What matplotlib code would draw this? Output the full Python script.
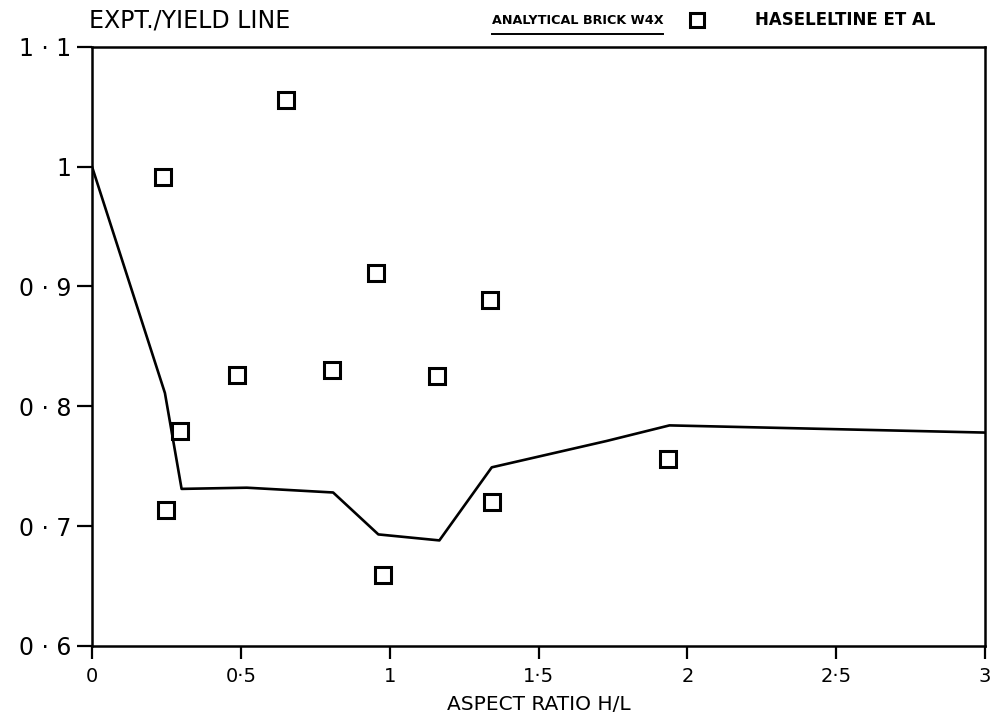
import matplotlib.pyplot as plt
from matplotlib.lines import Line2D

# analytical brick W4X curve
line_x = [0.0, 0.245, 0.301, 0.52, 0.81, 0.962, 1.167, 1.343, 1.729, 1.94, 3.0]
line_y = [1.0, 0.811, 0.731, 0.732, 0.728, 0.693, 0.688, 0.749, 0.771, 0.784, 0.778]

# Haseltine et al. test results
pts_x = [0.237, 0.248, 0.296, 0.486, 0.651, 0.807, 0.953, 0.976, 1.159, 1.336, 1.343, 1.934]
pts_y = [0.991, 0.713, 0.779, 0.826, 1.056, 0.830, 0.911, 0.659, 0.825, 0.889, 0.720, 0.756]

xticks = [0, 0.5, 1, 1.5, 2, 2.5, 3]
xlabels = ["0", "0·5", "1", "1·5", "2", "2·5", "3"]
yticks = [0.6, 0.7, 0.8, 0.9, 1.0, 1.1]
ylabels = ["0 · 6", "0 · 7", "0 · 8", "0 · 9", "1", "1 · 1"]

plt.rcParams['font.family'] = ['DejaVu Sans']

fig = plt.figure(figsize=(10, 7.2), dpi=100)
ax = fig.add_axes([0.092, 0.103, 0.893, 0.832])

ax.plot(line_x, line_y, color='black', lw=1.9)
ax.plot(pts_x, pts_y, ls='none', marker='s', ms=11, mfc='white',
        mec='black', mew=2.2)

ax.set_xlim(0, 3)
ax.set_ylim(0.6, 1.1)
ax.set_xticks(xticks)
ax.set_xticklabels(xlabels, fontsize=14)
ax.set_yticks(yticks)
ax.set_yticklabels(ylabels, fontsize=17)
ax.tick_params(axis='y', direction='out', length=11, width=1.6, pad=4)
ax.tick_params(axis='x', direction='out', length=9, width=1.6, pad=6)
for s in ax.spines.values():
    s.set_linewidth(1.8)

ax.set_xlabel("ASPECT RATIO H/L", fontsize=14.5, labelpad=7)

fig.text(0.089, 0.972, "EXPT./YIELD LINE", fontsize=17, va='center', ha='left')

# legend drawn by hand: underline stands for the curve
fig.text(0.492, 0.972, "ANALYTICAL BRICK W4X", fontsize=9.2, weight='bold',
         va='center', ha='left')
fig.add_artist(Line2D([0.492, 0.663], [0.953, 0.953], color='black', lw=1.4,
                      transform=fig.transFigure))
fig.add_artist(Line2D([0.697], [0.972], ls='none', marker='s', ms=10,
                      mfc='white', mec='black', mew=2.2,
                      transform=fig.transFigure))
fig.text(0.755, 0.972, "HASELELTINE ET AL", fontsize=12, weight='bold',
         va='center', ha='left')

fig.savefig("out.png", dpi=100)
